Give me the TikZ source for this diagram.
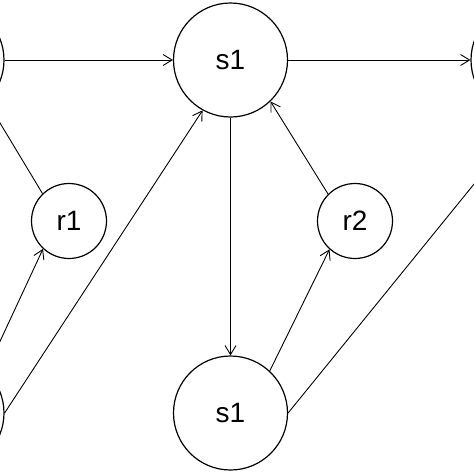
\documentclass[tikz,border=0pt]{standalone}
\usepackage{fontspec}
\setmainfont{Liberation Sans}
\usetikzlibrary{arrows.meta}

\begin{document}
\begin{tikzpicture}[inner sep=0pt,
  snode/.style={minimum size=114pt, fill=white, draw, line width=1.2pt, font=\fontsize{28}{30}\selectfont, shape=circle},
  rnode/.style={snode, minimum size=75pt},
  link/.style={-{Straight Barb[length=9pt,width=11pt]}, line width=0.9pt, draw}]
\useasboundingbox (0pt,0pt) rectangle (474pt,-474pt);
\clip (0pt,0pt) rectangle (474pt,-474pt);
\node (n0) [snode, at={(230.5pt,-60pt)}] {s1};
\node (n1) [snode, at={(230.5pt,-413pt)}] {s1};
\node (n2) [rnode, at={(69pt,-221pt)}] {r1};
\node (n3) [rnode, at={(355pt,-221pt)}] {r2};
\node (n4) [snode, at={(-53pt,-60pt)}] {};
\node (n5) [snode, at={(528pt,-60pt)}] {};
\node (n6) [snode, at={(-53pt,-413pt)}] {};


\path [link](n4.east)--(n0.west);


\path [link](n0.east)--(n5.west);


\path [link](n0.south)--(n1.north);


\path [link](n3.135)--(n0.314);


\path [link](n1.47)--(n3.228);


\path [link](n1.east)--(n5.south);


\path [link](n2.134)--(n4.314);


\path [link](n6.47)--(n2.227);


\path [link](n6.east)--(n0.241);
\end{tikzpicture}
\end{document}
